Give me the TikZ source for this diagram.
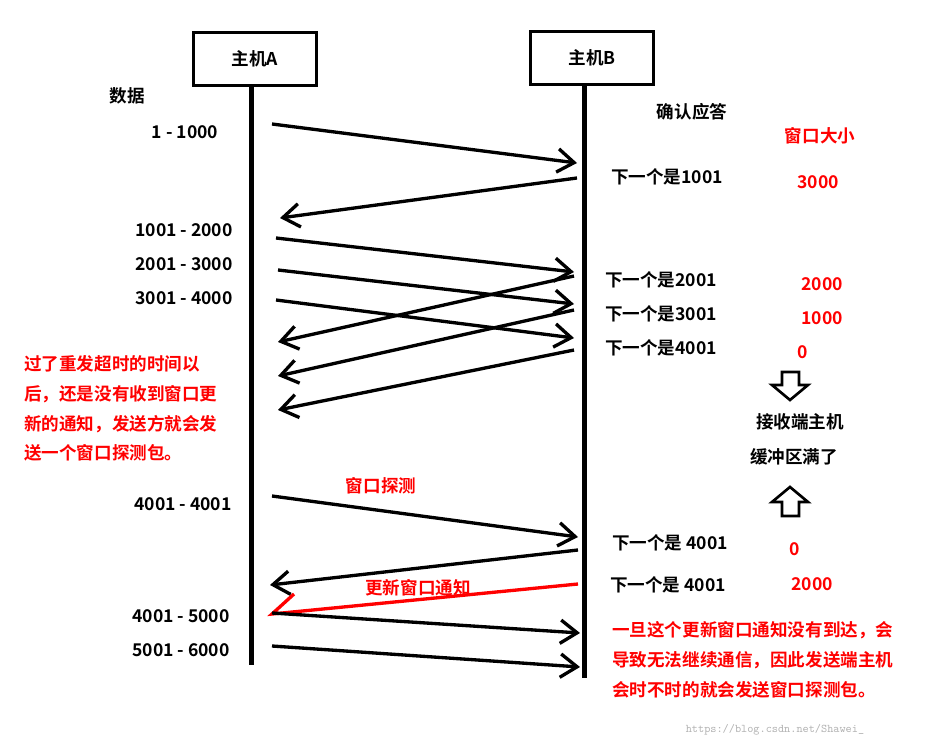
\documentclass[tikz,border=0pt]{standalone}
\usepackage{fontspec}
\setmainfont{Noto Sans CJK SC}[BoldFont={Noto Sans CJK SC Bold}]
\usetikzlibrary{arrows.meta}
\begin{document}
\begin{tikzpicture}[x=0.3mm,y=-0.3mm,
  t/.style={font=\fontsize{15}{17}\selectfont\bfseries,inner sep=0pt},
  r/.style={t,text=red},
  msg/.style={line width=1mm,-{Straight Barb[length=5mm,width=7mm]}},
  hostbox/.style={draw,line width=1mm,minimum width=37mm,minimum height=16mm,t}]
\useasboundingbox (0,0) rectangle (944,751);
\node[hostbox] (A) at (255,59) {主机A};
\node[hostbox] (B) at (592,58) {主机B};
\coordinate (Abot) at (251,665);
\coordinate (Bbot) at (584,678);
\draw[line width=1.5mm] (251,86) -- (Abot);
\draw[line width=1.5mm] (584,86) -- (Bbot);
\node[t] (d) at (127,96) {数据};
\node[t] (l1) at (185,132) {1 - 1000};
\node[t] (ack) at (692,112) {确认应答};
\node[r] (win) at (820,136) {窗口大小};
\node[t] (n1) at (667,177) {下一个是1001};
\node[r] (w1) at (818,182) {3000};
\node[t] (l2) at (184,230) {1001 - 2000};
\node[t] (l3) at (184,264) {2001 - 3000};
\node[t] (l4) at (184,298) {3001 - 4000};
\node[t] (n2) at (661,280) {下一个是2001};
\node[t] (n3) at (661,314) {下一个是3001};
\node[t] (n4) at (661,348) {下一个是4001};
\node[r] (w2) at (822,284) {2000};
\node[r] (w3) at (822,318) {1000};
\node[r] (w4) at (803,352) {0};
\node[t] (full1) at (800,422) {接收端主机};
\node[t] (full2) at (794,457) {缓冲区满了};
\draw[line width=0.8mm,fill=white] (782,372)--(799,372)--(799,385)--(808,385)--(790,400)--(772,385)--(782,385)--cycle;
\draw[line width=0.8mm,fill=white] (782,516)--(799,516)--(799,502)--(808,502)--(790,487)--(772,502)--(782,502)--cycle;
\node[r,align=left,anchor=north west,font=\fontsize{15}{25.5}\selectfont\bfseries] (note1) at (24,355) {过了重发超时的时间以\\后，还是没有收到窗口更\\新的通知，发送方就会发\\送一个窗口探测包。};
\node[r] (probe) at (381,486) {窗口探测};
\node[t] (l5) at (183,504) {4001 - 4001};
\node[t] (n5) at (670,543) {下一个是 4001};
\node[r] (w5) at (795,549) {0};
\node[r] (upd) at (418,588) {更新窗口通知};
\node[t] (n6) at (668,585) {下一个是 4001};
\node[r] (w6) at (812,584) {2000};
\node[t] (l6) at (181,616) {4001 - 5000};
\node[t] (l7) at (181,650) {5001 - 6000};
\node[r,align=left,anchor=north west,font=\fontsize{15}{25.5}\selectfont\bfseries] (note2) at (612,621) {一旦这个更新窗口通知没有到达，会\\导致无法继续通信，因此发送端主机\\会时不时的就会发送窗口探测包。};
\node[font=\ttfamily,text=gray!60] (wm) at (775,730) {https://blog.csdn.net/Shawei\_};
\foreach \n/\x/\y in {a1/272/124,b1/577/163,a2/577/178,b2/280/218,
  s1/276/238,e1/574/272,s2/278/270,e2/574/304,s3/276/300,e3/574/338,
  r1/574/276,f1/278/342,r2/574/310,f2/278/376,r3/574/350,f3/278/410,
  p1/272/496,q1/578/537,p2/578/550,q2/270/585,u1/578/584,u2/272/614,
  g1/272/613,h1/580/633,g2/272/646,h2/580/667}
  \coordinate (\n) at (\x,\y);
\draw[msg] (a1)--(b1); \draw[msg] (a2)--(b2);
\draw[msg] (s1)--(e1); \draw[msg] (s2)--(e2); \draw[msg] (s3)--(e3);
\draw[msg] (r1)--(f1); \draw[msg] (r2)--(f2); \draw[msg] (r3)--(f3);
\draw[msg] (p1)--(q1); \draw[msg] (p2)--(q2);
\draw[line width=1mm,red] (u1)--(u2) -- ++(22,-20);
\draw[msg] (g1)--(h1); \draw[msg] (g2)--(h2);
\end{tikzpicture}
\end{document}
